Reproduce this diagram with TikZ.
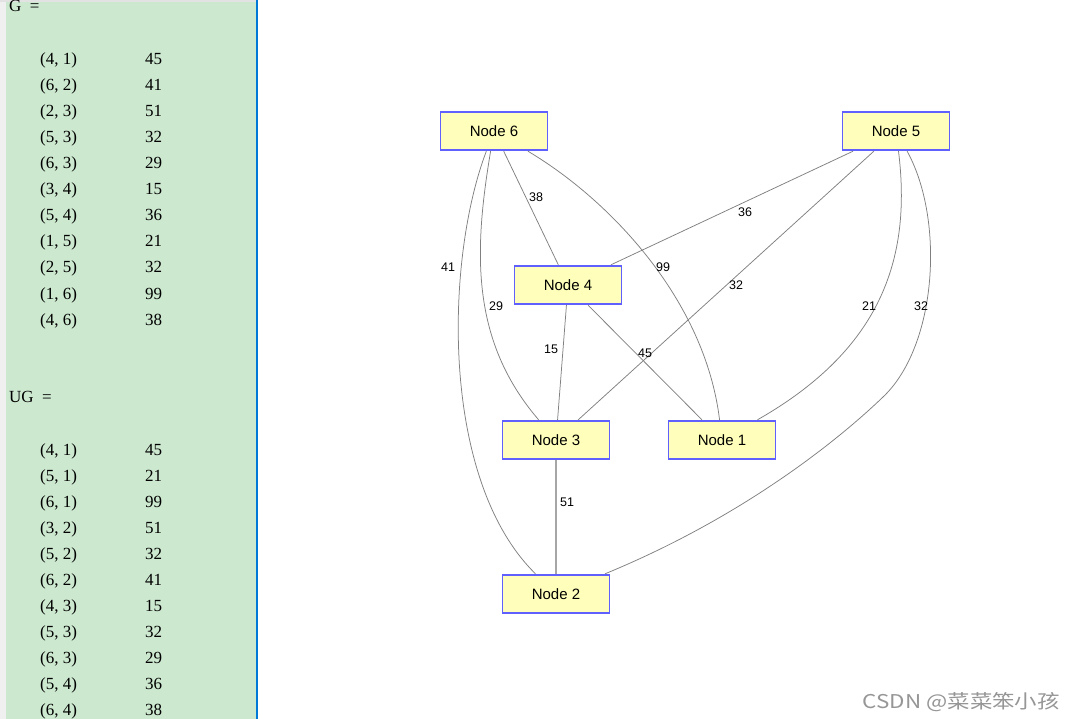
\documentclass[tikz,border=0pt]{standalone}
\usepackage{fontspec}
\setmainfont{Liberation Serif}
\newfontfamily\arialf{Liberation Sans}
\newfontfamily\cjkf{Noto Sans CJK SC}
\definecolor{panelgreen}{RGB}{204,232,207}
\definecolor{stripgray}{RGB}{240,240,240}
\definecolor{bandgray}{RGB}{226,226,226}
\definecolor{panelblue}{RGB}{0,120,215}
\definecolor{nodefill}{RGB}{255,255,187}
\definecolor{nodeborder}{RGB}{96,96,255}
\definecolor{edgegray}{RGB}{128,128,128}
\definecolor{marktext}{RGB}{150,150,150}
\begin{document}
\begin{tikzpicture}[x=1pt,y=-1pt,
  gnode/.style={draw=nodeborder, fill=nodefill, line width=1.9pt, minimum width=107pt, minimum height=38.5pt, inner sep=0pt, font=\arialf\fontsize{15}{17}\selectfont},
  gedge/.style={draw=edgegray, line width=0.75pt},
  elabel/.style={font=\arialf\fontsize{12.5}{14}\selectfont, inner sep=0pt},
  conso/.style={font=\fontsize{17}{20}\selectfont, anchor=base west, inner sep=0pt}]
% canvas
\fill[white] (0,0) rectangle (1076,719);
\useasboundingbox (0,0) rectangle (1076,719);
% console panel
\fill[stripgray] (0,0) rectangle (6,719);
\fill[panelgreen] (6,0) rectangle (255.5,719);
\fill[bandgray] (0,0) rectangle (255.5,2.5);
\fill[panelblue] (255.5,0) rectangle (258,719);
\node[conso] (gtitle) at (9,12) {G\ \ =};
\foreach \p/\v [count=\i from 0] in {{(4, 1)}/45,{(6, 2)}/41,{(2, 3)}/51,{(5, 3)}/32,{(6, 3)}/29,{(3, 4)}/15,{(5, 4)}/36,{(1, 5)}/21,{(2, 5)}/32,{(1, 6)}/99,{(4, 6)}/38}{
  \node[conso] (ga\i) at (40,65+26*\i) {\p};
  \node[conso] (gb\i) at (145,65+26*\i) {\v};
}
\node[conso] (ugtitle) at (9,402) {UG\ \ =};
\foreach \p/\v [count=\i from 0] in {{(4, 1)}/45,{(5, 1)}/21,{(6, 1)}/99,{(3, 2)}/51,{(5, 2)}/32,{(6, 2)}/41,{(4, 3)}/15,{(5, 3)}/32,{(6, 3)}/29,{(5, 4)}/36,{(6, 4)}/38}{
  \node[conso] (ua\i) at (40,455+26*\i) {\p};
  \node[conso] (ub\i) at (145,455+26*\i) {\v};
}
% graph nodes
\node[gnode] (n6) at (494,131) {Node 6};
\node[gnode] (n5) at (896,131) {Node 5};
\node[gnode] (n4) at (568,285) {Node 4};
\node[gnode] (n3) at (556,440) {Node 3};
\node[gnode] (n1) at (722,440) {Node 1};
\node[gnode] (n2) at (556,594) {Node 2};
% edges
\draw[gedge] (n6) -- (n4);
\draw[gedge] (n6) .. controls (610,200) and (705,300) .. (n1);
\draw[gedge] (n6) .. controls (474,250) and (470,340) .. (n3);
\draw[gedge] (n6) .. controls (445,260) and (440,480) .. (n2);
\draw[gedge] (n5) -- (n4);
\draw[gedge] (n5) -- (n3);
\draw[gedge] (n5) .. controls (912,260) and (880,350) .. (n1);
\coordinate (m52) at (883,397);
\draw[gedge] (n5) .. controls (945,220) and (937,346) .. (m52) .. controls (856,423) and (760,510) .. (n2);
\draw[gedge] (n4) -- (n3);
\draw[gedge] (n4) -- (n1);
\draw[draw=edgegray!70, line width=1.1pt] (n3) -- (n2);
% edge labels
\node[elabel] (l38) at (536,197) {38};
\node[elabel] (l99) at (663,267) {99};
\node[elabel] (l41) at (448,267) {41};
\node[elabel] (l29) at (496,306) {29};
\node[elabel] (l36) at (745,212) {36};
\node[elabel] (l32a) at (736,285) {32};
\node[elabel] (l21) at (869,306) {21};
\node[elabel] (l32b) at (921,306) {32};
\node[elabel] (l15) at (551,349) {15};
\node[elabel] (l45) at (645,353) {45};
\node[elabel] (l51) at (567,502) {51};
% watermark
\node[anchor=east, inner sep=0pt, text=marktext, font=\cjkf\fontsize{19}{21}\selectfont] (wm) at (1060,702) {\scalebox{1.18}[1]{CSDN @菜菜笨小孩}};
\end{tikzpicture}
\end{document}
